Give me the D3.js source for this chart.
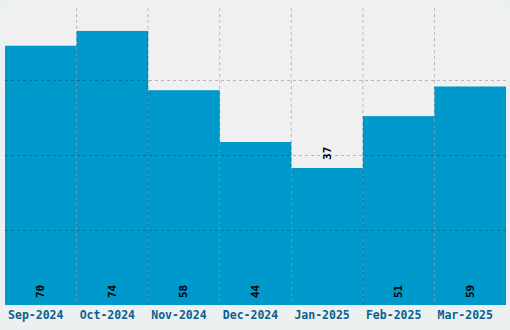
<!DOCTYPE html>
<html>
<head>
<meta charset="utf-8">
<script src="https://cdn.jsdelivr.net/npm/d3@7"></script>
<style>
    body { margin: 0; background: #ecf0f1; }
    .bar-label { font-family: "DejaVu Sans Mono", monospace; font-weight: bold; font-size: 11px; fill: #000; }
    .month-label { font-family: "DejaVu Sans Mono", monospace; font-weight: bold; font-size: 11.5px; fill: #0b5f91; }
</style>
</head>
<body>
<div id="chart"></div>
<script>
// chart data
var months = ["Sep-2024", "Oct-2024", "Nov-2024", "Dec-2024", "Jan-2025", "Feb-2025", "Mar-2025"];
var counts = [70, 74, 58, 44, 37, 51, 59];
var yMax = 81; // top of value axis

var w = 510, // set canvas width
    h = 330; // set canvas height

var margin = {top: 5, right: 4, bottom: 25, left: 5};

var svg = d3.select("#chart")
    .append("svg")
    .attr("width", w)
    .attr("height", h);

// outer background
svg.append("rect")
    .attr("width", w)
    .attr("height", h)
    .attr("fill", "#ecf0f1");

var xScale = d3.scaleBand()
    .domain(months)
    .range([margin.left, w - margin.right])
    .padding(0);

var yScale = d3.scaleLinear()
    .domain([0, yMax])
    .range([h - margin.bottom, margin.top]);

// plot background
svg.append("rect")
    .attr("x", margin.left)
    .attr("y", margin.top)
    .attr("width", w - margin.left - margin.right)
    .attr("height", h - margin.top - margin.bottom)
    .attr("fill", "#f0f0f0");

// bars
svg.selectAll(".bar")
    .data(counts)
    .enter()
    .append("rect")
    .attr("class", "bar")
    .attr("x", function (d, i) { return xScale(months[i]); })
    .attr("y", function (d) { return yScale(d); })
    .attr("width", xScale.bandwidth())
    .attr("height", function (d) { return yScale(0) - yScale(d); })
    .attr("fill", "#0099cc");

// grid lines, drawn over the bars
var gridY = d3.axisLeft(yScale)
    .tickValues([1, 2, 3].map(function (k) { return yMax * k / 4; }))
    .tickSize(-(w - margin.left - margin.right))
    .tickFormat("");

svg.append("g")
    .attr("class", "grid")
    .attr("transform", "translate(" + margin.left + ",0)")
    .call(gridY);

var gridX = d3.axisBottom(xScale)
    .tickValues(months.slice(1))
    .tickSize(-(h - margin.top - margin.bottom))
    .tickFormat("")
    .offset(0);

svg.append("g")
    .attr("class", "grid")
    .attr("transform", "translate(" + (-xScale.bandwidth() / 2) + "," + (h - margin.bottom) + ")")
    .call(gridX);

svg.selectAll(".grid .domain").remove();
svg.selectAll(".grid line")
    .attr("stroke", "rgba(0,0,0,0.24)")
    .attr("stroke-dasharray", "3,3");

// month labels (sit a little left of the band centre)
svg.selectAll(".month-label")
    .data(months)
    .enter()
    .append("text")
    .attr("class", "month-label")
    .attr("x", function (d) { return xScale(d) + xScale.bandwidth() / 2 - 5; })
    .attr("y", h - 11)
    .attr("text-anchor", "middle")
    .text(function (d) { return d; });

// value labels: at the foot of the bar, smallest bar gets its label on top
var minCount = d3.min(counts);

svg.selectAll(".bar-label")
    .data(counts)
    .enter()
    .append("text")
    .attr("class", "bar-label")
    .attr("transform", function (d, i) {
        var x = xScale(months[i]) + xScale.bandwidth() / 2;
        var y = d === minCount ? yScale(d) - 8 : yScale(0) - 7;
        return "translate(" + x + "," + y + ") rotate(-90)";
    })
    .attr("dominant-baseline", "central")
    .text(function (d) { return d; });
</script>
</body>
</html>
